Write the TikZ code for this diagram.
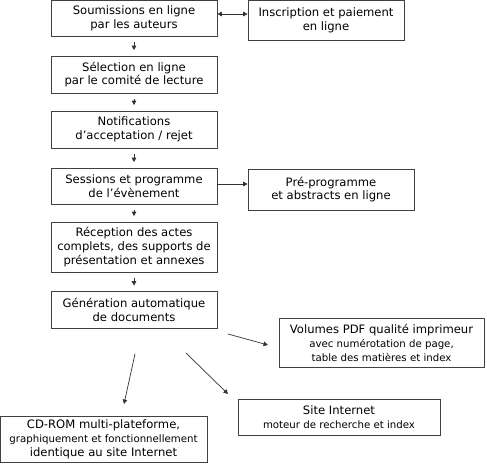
\documentclass[tikz,border=0pt]{standalone}
\usepackage{fontspec}
\setmainfont{DejaVu Sans}
\usetikzlibrary{arrows.meta}
\newcommand{\smalltext}{\fontsize{10.2}{13}\selectfont}
\begin{document}
\begin{tikzpicture}[x=1pt,y=-1pt,
  >={Triangle[length=4.5pt,width=4.5pt]},
  box/.style={draw=black!75, line width=0.7pt, align=center, inner sep=0pt,
    font=\fontsize{11.6}{13.8}\selectfont},
  flow/.style={draw=black!80, line width=0.7pt, ->}]
\useasboundingbox (0,0) rectangle (487,464);
\fill[white] (0,0) rectangle (487,464);

% main column
\node[box, minimum width=166pt, minimum height=36pt] (sub) at (134,18) {Soumissions en ligne\\par les auteurs};
\node[box, minimum width=166pt, minimum height=37pt] (sel) at (134,74.5) {Sélection en ligne\\par le comité de lecture};
\node[box, minimum width=166pt, minimum height=37pt] (notif) at (134,129.5) {Notifications\\d’acceptation / rejet};
\node[box, minimum width=166pt, minimum height=36pt] (sess) at (134,186) {Sessions et programme\\de l’évènement};
\node[box, minimum width=166pt, minimum height=50pt] (recep) at (134,247) {Réception des actes\\complets, des supports de\\présentation et annexes};
\node[box, minimum width=166pt, minimum height=37pt] (gen) at (134,310) {Génération automatique\\de documents};

% side boxes
\node[box, minimum width=156pt, minimum height=40pt] (insc) at (326,20) {Inscription et paiement\\en ligne};
\node[box, minimum width=166pt, minimum height=41pt] (pre) at (331,189.5) {Pré-programme\\et abstracts en ligne};

% outputs
\node[box, minimum width=205pt, minimum height=49pt] (vol) at (381.5,343)
  {Volumes PDF qualité imprimeur\\{\smalltext avec numérotation de page,}\\{\smalltext table des matières et index}};
\node[box, minimum width=202pt, minimum height=36pt] (site) at (339,417.5)
  {Site Internet\\{\smalltext moteur de recherche et index}};
\node[box, minimum width=207pt, minimum height=46pt] (cd) at (103.5,439)
  {CD-ROM multi-plateforme,\\{\smalltext graphiquement et fonctionnellement}\\identique au site Internet};

% vertical flow
\foreach \a/\b in {sub/sel, sel/notif, notif/sess, sess/recep, recep/gen}
  \draw[flow, shorten <=5.5pt, shorten >=5.5pt] (\a.south) -- (\b.north);

% side links
\draw[flow, <->]
  ([yshift=4pt]sub.east) -- ([yshift=4pt]sub.east -| insc.west);
\draw[flow] ([yshift=2pt]sess.east) -- ([yshift=2pt]sess.east -| pre.west);

% output arrows
\coordinate (vs) at (228,334);  \coordinate (ve) at (268,345);
\coordinate (ss) at (186,353);  \coordinate (se) at (228,394);
\coordinate (cs) at (135,354);  \coordinate (ce) at (124,404);
\draw[flow] (vs) -- (ve);
\draw[flow] (ss) -- (se);
\draw[flow] (cs) -- (ce);
\end{tikzpicture}
\end{document}
